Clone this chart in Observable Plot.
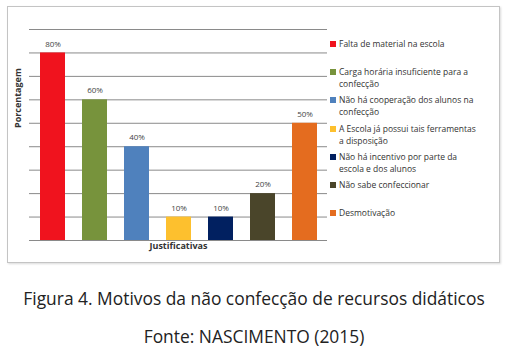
<!DOCTYPE html>
<html>
<head>
<meta charset="utf-8">
<script src="https://cdn.jsdelivr.net/npm/d3@7"></script>
<script src="https://cdn.jsdelivr.net/npm/@observablehq/plot@0.6"></script>
<style>
  html, body { margin: 0; padding: 0; background: #fff; }
  #wrap { position: relative; width: 508px; height: 356px; overflow: hidden; font-family: "Open Sans", sans-serif; }
  #frame { position: absolute; left: 7px; top: 6px; width: 491px; height: 255px; border: 1px solid #c4c4c4; box-shadow: 1px 1px 2px rgba(0,0,0,0.15); }
  #chart { position: absolute; left: 0; top: 0; }
  #legend { position: absolute; left: 330px; top: 0; width: 170px; }
  .item { position: absolute; left: 0; display: flex; align-items: flex-start; font-size: 8.5px; line-height: 12px; color: #333; }
  .sw { width: 6px; height: 6px; margin-top: 3px; margin-right: 3px; flex: none; }
  .cap { position: absolute; left: 0; width: 508px; text-align: center; font-size: 17.4px; line-height: 24px; color: #222; }
</style>
</head>
<body>
<div id="wrap">
  <div id="frame"></div>
  <div id="chart"></div>
  <div id="legend"></div>
  <div class="cap" style="top:286px">Figura 4. Motivos da não confecção de recursos didáticos</div>
  <div class="cap" style="top:324px">Fonte: NASCIMENTO (2015)</div>
</div>
<script>
const categories = [
  "Falta de material na escola",
  "Carga horária insuficiente para a\nconfecção",
  "Não há cooperação dos alunos na\nconfecção",
  "A Escola já possui tais ferramentas\na disposição",
  "Não há incentivo por parte da\nescola e dos alunos",
  "Não sabe confeccionar",
  "Desmotivação"
];
const values = [80, 60, 40, 10, 10, 20, 50];
const colors = ["#f0131e", "#77933c", "#4f81bd", "#fdc02e", "#012060", "#4a452a", "#e46c1f"];
const yTicks = [0, 10, 20, 30, 40, 50, 60, 70, 80, 90];

const data = categories.map((c, i) => ({category: c, value: values[i]}));

const chart = Plot.plot({
  width: 330,
  height: 262,
  marginLeft: 29,
  marginRight: 3,
  marginTop: 29,
  marginBottom: 22,
  style: {background: "transparent", fontFamily: "Open Sans, sans-serif"},
  x: {domain: categories, axis: null, paddingInner: 0.41, paddingOuter: 0.2},
  y: {domain: [0, 90], axis: null},
  color: {domain: categories, range: colors},
  marks: [
    Plot.ruleY(yTicks, {stroke: "#8a8a8a", strokeWidth: 1}),
    Plot.barY(data, {x: "category", y: "value", fill: "category"}),
    Plot.text(data, {x: "category", y: "value", text: d => d.value + "%", dy: -9, fontSize: 8, fill: "#444"}),
    Plot.text(["Porcentagem"], {frameAnchor: "left", rotate: -90, dx: -11, dy: -7, fontSize: 9, fontWeight: "bold", fill: "#333"}),
    Plot.text(["Justificativas"], {frameAnchor: "bottom", dy: 8, fontSize: 9, fontWeight: "bold", fill: "#333"})
  ]
});
document.getElementById("chart").appendChild(chart);

const legend = document.getElementById("legend");
categories.forEach((c, i) => {
  const item = document.createElement("div");
  item.className = "item";
  item.style.top = (38 + i * 28.2) + "px";
  const sw = document.createElement("div");
  sw.className = "sw";
  sw.style.background = colors[i];
  const tx = document.createElement("div");
  tx.innerHTML = c.split("\n").join("<br>");
  item.appendChild(sw);
  item.appendChild(tx);
  legend.appendChild(item);
});
</script>
</body>
</html>
